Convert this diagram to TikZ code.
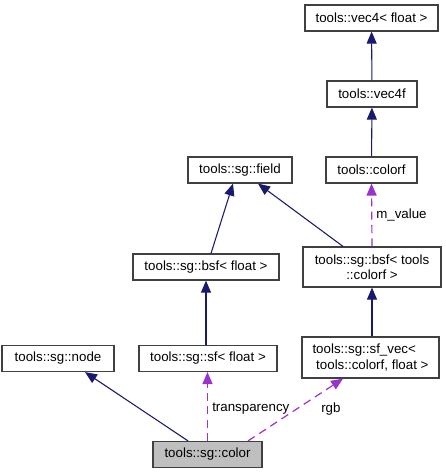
\documentclass[tikz,border=0pt]{standalone}
\usepackage{fontspec}
\setmainfont{Liberation Sans}
\usetikzlibrary{arrows.meta}
\definecolor{edgeblue}{HTML}{191970}
\definecolor{edgepurple}{HTML}{9A32CD}
\definecolor{boxgray}{HTML}{BFBFBF}
\definecolor{boxline}{HTML}{404040}
\begin{document}
\begin{tikzpicture}[x=0.75pt,y=-0.75pt,
  cls/.style={draw=boxline,line width=0.9pt,rectangle,inner sep=0pt,minimum height=19.5pt,font=\fontsize{10}{11.5}\selectfont,align=center},
  inh/.style={draw=edgeblue,line width=0.8pt,-{Triangle[length=9pt,width=7.5pt]}},
  use/.style={draw=edgepurple,line width=0.9pt,dash pattern=on 6pt off 4pt,-{Triangle[length=9pt,width=7.5pt]}},
  lbl/.style={font=\fontsize{10}{11.5}\selectfont,anchor=west,inner sep=0pt}]
\useasboundingbox (0,0) rectangle (445,473);
\node[cls,minimum width=99.75pt] (vec4) at (371.5,18) {tools::vec4< float >};
\node[cls,minimum width=67.5pt] (vec4f) at (372,94) {tools::vec4f};
\node[cls,minimum width=78pt] (field) at (240,170) {tools::sg::field};
\node[cls,minimum width=68.25pt] (colorf) at (371.5,170) {tools::colorf};
\node[cls,minimum width=109.5pt] (bsff) at (206,267) {tools::sg::bsf< float >};
\node[cls,minimum width=103.5pt,minimum height=30pt] (bsfc) at (372,267) {tools::sg::bsf< tools\\::colorf >};
\node[cls,minimum width=84pt] (node) at (58,358.5) {tools::sg::node};
\node[cls,minimum width=103.5pt] (sff) at (208,358.5) {tools::sg::sf< float >};
\node[cls,minimum width=102.75pt,minimum height=30.75pt,align=left] (sfvec) at (370.5,357.5) {tools::sg::sf\_vec<\\\ tools::colorf, float >};
\node[cls,fill=boxgray,minimum width=81.75pt] (color) at (207.5,454.5) {tools::sg::color};
\draw[inh] (vec4f) -- (vec4);
\draw[inh] (colorf) -- (vec4f);
\draw[inh] ([xshift=3.75pt]bsff.north) -- ([xshift=-5.25pt]field.south);
\draw[inh] ([xshift=-21.75pt]bsfc.north) -- ([xshift=13.5pt]field.south);
\draw[use] (bsfc.north) -- (colorf.south);
\draw[inh] (sff.north -| bsff.south) -- (bsff.south);
\draw[inh] (sfvec.north -| bsfc.south) -- (bsfc.south);
\draw[inh] ([xshift=-14.6pt]color.north) -- ([xshift=20.25pt]node.south);
\draw[use] (color.north) -- (color.north |- sff.south);
\draw[use] ([xshift=30.4pt]color.north) -- ([xshift=-20.6pt]sfvec.south);
\node[lbl] (lmv) at (376,215) {m\_value};
\node[lbl] (ltr) at (212,409) {transparency};
\node[lbl] (lrgb) at (321,409) {rgb};
\end{tikzpicture}
\end{document}
